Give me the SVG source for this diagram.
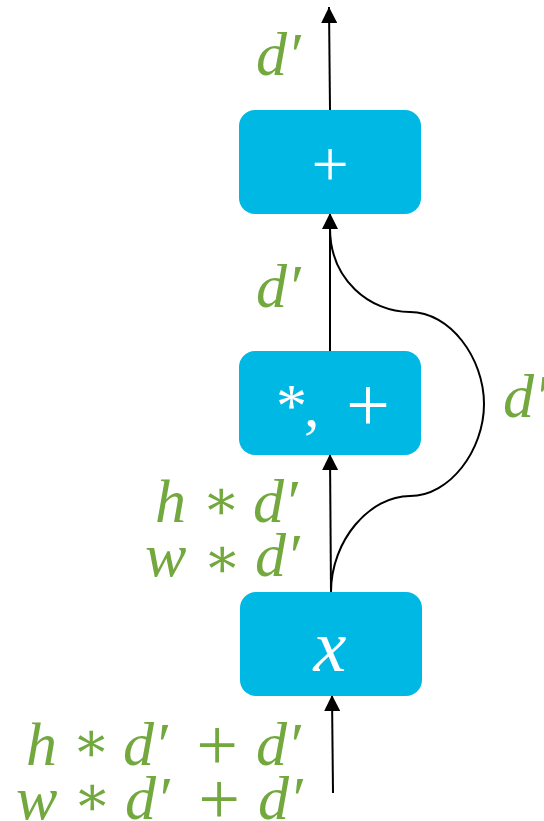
<svg xmlns="http://www.w3.org/2000/svg" width="544" height="821" viewBox="0 0 544 821">
  <style>
    .box { fill: #00B8E4; }
    .op { fill: #ffffff; font-family: "Liberation Serif", "DejaVu Serif", serif; }
    .lbl { fill: #72A83E; font-family: "Liberation Serif", "DejaVu Serif", serif; font-size: 62px; font-style: italic; }
    .sym { fill: #72A83E; font-family: "Liberation Serif", "DejaVu Serif", serif; text-anchor: middle; }
    .star { font-size: 56px; }
    .plus { font-size: 74px; }
    .wire { fill: none; stroke: #000; stroke-width: 2; }
  </style>
  <defs>
    <marker id="arrow" viewBox="0 0 16 16" refX="16" refY="8" markerWidth="16" markerHeight="16" markerUnits="userSpaceOnUse" orient="auto">
      <path d="M0,0 L16,8 L0,16 Z" fill="#000"/>
    </marker>
  </defs>

  <g id="connectors">
    <line class="wire" x1="330" y1="110" x2="329" y2="7" marker-end="url(#arrow)"/>
    <line class="wire" x1="330" y1="351" x2="330" y2="213" marker-end="url(#arrow)"/>
    <line class="wire" x1="331" y1="592" x2="330" y2="454" marker-end="url(#arrow)"/>
    <line class="wire" x1="333" y1="793" x2="332" y2="695" marker-end="url(#arrow)"/>
    <path class="wire" d="M331,592 C331,540 370,496 410,496 C450,496 484,450 484,404 C484,358 450,312 410,312 C370,312 330,280 330,228"/>
  </g>

  <g id="node-add">
    <rect class="box" x="239" y="110" width="182" height="104" rx="16"/>
    <text class="op" x="330" y="186" font-size="66" text-anchor="middle">+</text>
  </g>

  <g id="node-mul-add">
    <rect class="box" x="239" y="351" width="182" height="104" rx="16"/>
    <text class="op" x="276" y="426" font-size="62">*</text>
    <text class="op" x="304" y="426" font-size="62">,</text>
    <text class="op" x="368" y="431" font-size="78" text-anchor="middle">+</text>
  </g>

  <g id="node-x">
    <rect class="box" x="240" y="592" width="182" height="104" rx="16"/>
    <text class="op" x="330" y="671" font-size="74" font-style="italic" text-anchor="middle">x</text>
  </g>

  <g id="labels">
    <text class="lbl" x="256" y="75">d′</text>
    <text class="lbl" x="256" y="307">d′</text>
    <text class="lbl" x="503" y="417">d′</text>

    <!-- h * d' -->
    <text class="lbl" x="155" y="522">h</text>
    <text class="sym star" x="221" y="519">∗</text>
    <text class="lbl" x="253" y="522">d′</text>

    <!-- w * d' -->
    <text class="lbl" x="145" y="576">w</text>
    <text class="sym star" x="222" y="577">∗</text>
    <text class="lbl" x="255" y="576">d′</text>

    <!-- h * d' + d' -->
    <text class="lbl" x="26" y="765">h</text>
    <text class="sym star" x="91" y="761">∗</text>
    <text class="lbl" x="123" y="765">d′</text>
    <text class="sym plus" x="217" y="770">+</text>
    <text class="lbl" x="256" y="765">d′</text>

    <!-- w * d' + d' -->
    <text class="lbl" x="16" y="819">w</text>
    <text class="sym star" x="92" y="815">∗</text>
    <text class="lbl" x="125" y="819">d′</text>
    <text class="sym plus" x="219" y="824">+</text>
    <text class="lbl" x="258" y="819">d′</text>
  </g>
</svg>
